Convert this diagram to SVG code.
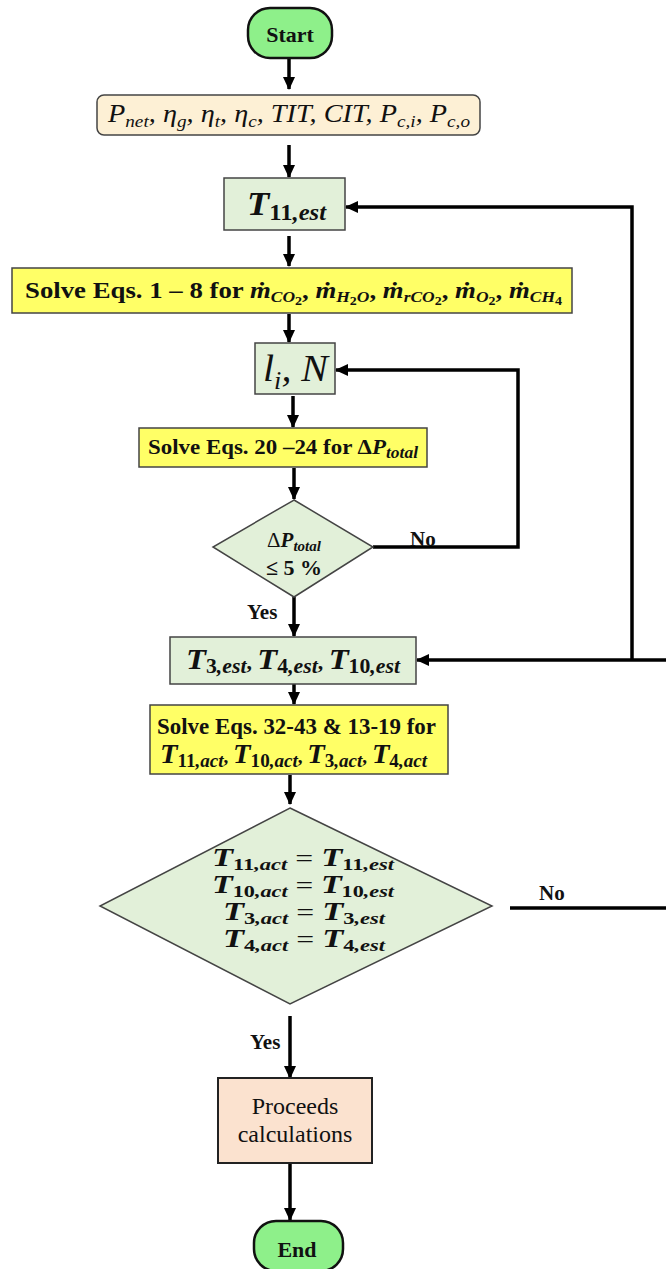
<svg xmlns="http://www.w3.org/2000/svg" width="666" height="1269" viewBox="0 0 666 1269">
<style>
text,tspan{font-family:"Liberation Serif","Times New Roman",serif}
.b{font-weight:bold;fill:#111}
.m{font-style:italic;fill:#111}
.mb{font-style:italic;font-weight:bold;fill:#111}
.n{font-weight:normal;fill:#111}
.edge{stroke:#000;stroke-width:3.5;fill:none}
.node{stroke:#444;stroke-width:1.5}
.pill{fill:#8ef08a;stroke:#111;stroke-width:2.5}
.green{fill:#e2f0d9}
.yellow{fill:#ffff66}
</style>
<defs>
<marker id="ah" markerUnits="userSpaceOnUse" markerWidth="14" markerHeight="14" viewBox="0 0 14 14" refX="12" refY="7" orient="auto">
<path d="M0,1 L13,7 L0,13 Z" fill="#000"/>
</marker>
</defs>

<g id="connectors">
<line class="edge" x1="289" y1="58" x2="289" y2="89" marker-end="url(#ah)"/>
<line class="edge" x1="289" y1="145" x2="289" y2="177" marker-end="url(#ah)"/>
<line class="edge" x1="289" y1="236" x2="289" y2="266" marker-end="url(#ah)"/>
<line class="edge" x1="289" y1="314" x2="289" y2="342" marker-end="url(#ah)"/>
<line class="edge" x1="293" y1="396" x2="293" y2="427" marker-end="url(#ah)"/>
<line class="edge" x1="294" y1="468" x2="294" y2="499" marker-end="url(#ah)"/>
<polyline class="edge" points="373,547 518,547 518,370 336,370" marker-end="url(#ah)"/>
<line class="edge" x1="294" y1="597" x2="294" y2="636" marker-end="url(#ah)"/>
<line class="edge" x1="294" y1="684" x2="294" y2="704" marker-end="url(#ah)"/>
<line class="edge" x1="290" y1="775" x2="290" y2="804" marker-end="url(#ah)"/>
<line class="edge" x1="290" y1="1016" x2="290" y2="1078" marker-end="url(#ah)"/>
<line class="edge" x1="290" y1="1164" x2="290" y2="1220" marker-end="url(#ah)"/>
<line class="edge" x1="510" y1="908" x2="666" y2="908"/>
<line class="edge" x1="666" y1="660" x2="417" y2="660" marker-end="url(#ah)"/>
<polyline class="edge" points="632,660 632,207 346,207" marker-end="url(#ah)"/>
<text class="b" x="410" y="546" font-size="21">No</text>
<text class="b" x="247" y="619" font-size="21">Yes</text>
<text class="b" x="539" y="900" font-size="21">No</text>
<text class="b" x="250" y="1049" font-size="21">Yes</text>
</g>

<g id="start">
<rect class="pill" x="248" y="8" width="84" height="50" rx="22"/>
<text class="b" x="290" y="42" font-size="22" text-anchor="middle">Start</text>
</g>

<g id="inputs">
<rect x="97" y="95" width="383" height="40" rx="7" fill="#fdf0d5" stroke="#444" stroke-width="1.5"/>
<text class="m" x="108" y="122" font-size="25" textLength="362" lengthAdjust="spacingAndGlyphs">P<tspan font-size="17" dy="5">net</tspan><tspan dy="-5">, η</tspan><tspan font-size="17" dy="5">g</tspan><tspan dy="-5">, η</tspan><tspan font-size="17" dy="5">t</tspan><tspan dy="-5">, η</tspan><tspan font-size="17" dy="5">c</tspan><tspan dy="-5">, TIT, CIT, P</tspan><tspan font-size="17" dy="5">c,i</tspan><tspan dy="-5">, P</tspan><tspan font-size="17" dy="5">c,o</tspan></text>
</g>

<g id="t11est">
<rect class="node green" x="224" y="178" width="121" height="52"/>
<text x="247" y="215" textLength="79" lengthAdjust="spacingAndGlyphs"><tspan class="mb" font-size="34">T</tspan><tspan class="b" font-size="23" dy="5">11</tspan><tspan class="mb" font-size="23">,est</tspan></text>
</g>

<g id="solve1">
<rect class="node yellow" x="12" y="268" width="560" height="45"/>
<text x="25" y="298" textLength="537" lengthAdjust="spacingAndGlyphs"><tspan class="b" font-size="23">Solve Eqs. 1 – 8 for </tspan><tspan class="mb" font-size="23">ṁ</tspan><tspan class="mb" font-size="15" dy="4">CO</tspan><tspan class="b" font-size="12" dy="3">2</tspan><tspan class="b" font-size="23" dy="-7">, </tspan><tspan class="mb" font-size="23">ṁ</tspan><tspan class="mb" font-size="15" dy="4">H</tspan><tspan class="b" font-size="12" dy="3">2</tspan><tspan class="mb" font-size="15" dy="-3">O</tspan><tspan class="b" font-size="23" dy="-4">, </tspan><tspan class="mb" font-size="23">ṁ</tspan><tspan class="mb" font-size="15" dy="4">rCO</tspan><tspan class="b" font-size="12" dy="3">2</tspan><tspan class="b" font-size="23" dy="-7">, </tspan><tspan class="mb" font-size="23">ṁ</tspan><tspan class="mb" font-size="15" dy="4">O</tspan><tspan class="b" font-size="12" dy="3">2</tspan><tspan class="b" font-size="23" dy="-7">, </tspan><tspan class="mb" font-size="23">ṁ</tspan><tspan class="mb" font-size="15" dy="4">CH</tspan><tspan class="b" font-size="12" dy="3">4</tspan></text>
</g>

<g id="liN">
<rect class="node green" x="255" y="343" width="80" height="51"/>
<text class="m" x="263" y="381" font-size="38" textLength="65" lengthAdjust="spacingAndGlyphs">l<tspan font-size="25" dy="8">i</tspan><tspan dy="-8">, N</tspan></text>
</g>

<g id="solve2">
<rect class="node yellow" x="139" y="428" width="288" height="39"/>
<text x="148" y="454" textLength="270" lengthAdjust="spacingAndGlyphs"><tspan class="b" font-size="21">Solve Eqs. 20 –24  for Δ</tspan><tspan class="mb" font-size="21">P</tspan><tspan class="mb" font-size="16" dy="4">total</tspan></text>
</g>

<g id="dp">
<polygon class="node green" points="294,500 373,547 294,597 213,547"/>
<text x="294" y="547" text-anchor="middle"><tspan class="n" font-size="21">Δ</tspan><tspan class="mb" font-size="21">P</tspan><tspan class="mb" font-size="15" dy="4">total</tspan></text>
<text class="b" x="294" y="575" font-size="22" text-anchor="middle">≤ 5 %</text>
</g>

<g id="t3est">
<rect class="node green" x="170" y="637" width="246" height="47"/>
<text x="186" y="669" textLength="214" lengthAdjust="spacingAndGlyphs"><tspan class="mb" font-size="30">T</tspan><tspan class="b" font-size="20" dy="4">3</tspan><tspan class="mb" font-size="20">,est</tspan><tspan class="b" font-size="20" dy="-4">, </tspan><tspan class="mb" font-size="30">T</tspan><tspan class="b" font-size="20" dy="4">4</tspan><tspan class="mb" font-size="20">,est</tspan><tspan class="b" font-size="20" dy="-4">, </tspan><tspan class="mb" font-size="30">T</tspan><tspan class="b" font-size="20" dy="4">10</tspan><tspan class="mb" font-size="20">,est</tspan></text>
</g>

<g id="solve3">
<rect class="node yellow" x="150" y="705" width="298" height="69"/>
<text class="b" x="157" y="734" font-size="23" textLength="279" lengthAdjust="spacingAndGlyphs">Solve Eqs. 32-43 &amp; 13-19 for</text>
<text x="160" y="763" textLength="267" lengthAdjust="spacingAndGlyphs"><tspan class="mb" font-size="27">T</tspan><tspan class="b" font-size="18" dy="4">11</tspan><tspan class="mb" font-size="18">,act</tspan><tspan class="b" font-size="18" dy="-4">, </tspan><tspan class="mb" font-size="27">T</tspan><tspan class="b" font-size="18" dy="4">10</tspan><tspan class="mb" font-size="18">,act</tspan><tspan class="b" font-size="18" dy="-4">, </tspan><tspan class="mb" font-size="27">T</tspan><tspan class="b" font-size="18" dy="4">3</tspan><tspan class="mb" font-size="18">,act</tspan><tspan class="b" font-size="18" dy="-4">, </tspan><tspan class="mb" font-size="27">T</tspan><tspan class="b" font-size="18" dy="4">4</tspan><tspan class="mb" font-size="18">,act</tspan></text>
</g>

<g id="check">
<polygon class="node green" points="290,808 492,906 290,1004 100,906"/>
<text x="212" y="866" textLength="182" lengthAdjust="spacingAndGlyphs"><tspan class="mb" font-size="26">T</tspan><tspan class="b" font-size="17" dy="4">11</tspan><tspan class="mb" font-size="17">,act</tspan><tspan class="n" font-size="24" dy="-4"> = </tspan><tspan class="mb" font-size="26">T</tspan><tspan class="b" font-size="17" dy="4">11</tspan><tspan class="mb" font-size="17">,est</tspan></text>
<text x="212" y="893" textLength="182" lengthAdjust="spacingAndGlyphs"><tspan class="mb" font-size="26">T</tspan><tspan class="b" font-size="17" dy="4">10</tspan><tspan class="mb" font-size="17">,act</tspan><tspan class="n" font-size="24" dy="-4"> = </tspan><tspan class="mb" font-size="26">T</tspan><tspan class="b" font-size="17" dy="4">10</tspan><tspan class="mb" font-size="17">,est</tspan></text>
<text x="223" y="920" textLength="162" lengthAdjust="spacingAndGlyphs"><tspan class="mb" font-size="26">T</tspan><tspan class="b" font-size="17" dy="4">3</tspan><tspan class="mb" font-size="17">,act</tspan><tspan class="n" font-size="24" dy="-4"> = </tspan><tspan class="mb" font-size="26">T</tspan><tspan class="b" font-size="17" dy="4">3</tspan><tspan class="mb" font-size="17">,est</tspan></text>
<text x="223" y="947" textLength="162" lengthAdjust="spacingAndGlyphs"><tspan class="mb" font-size="26">T</tspan><tspan class="b" font-size="17" dy="4">4</tspan><tspan class="mb" font-size="17">,act</tspan><tspan class="n" font-size="24" dy="-4"> = </tspan><tspan class="mb" font-size="26">T</tspan><tspan class="b" font-size="17" dy="4">4</tspan><tspan class="mb" font-size="17">,est</tspan></text>
</g>

<g id="proceeds">
<rect x="218" y="1078" width="154" height="85" fill="#fbe2cf" stroke="#222" stroke-width="2"/>
<text class="n" x="295" y="1114" font-size="24" text-anchor="middle">Proceeds</text>
<text class="n" x="295" y="1142" font-size="24" text-anchor="middle">calculations</text>
</g>

<g id="end">
<rect class="pill" x="254" y="1221" width="89" height="50" rx="22"/>
<text class="b" x="297" y="1257" font-size="22" text-anchor="middle">End</text>
</g>
</svg>
